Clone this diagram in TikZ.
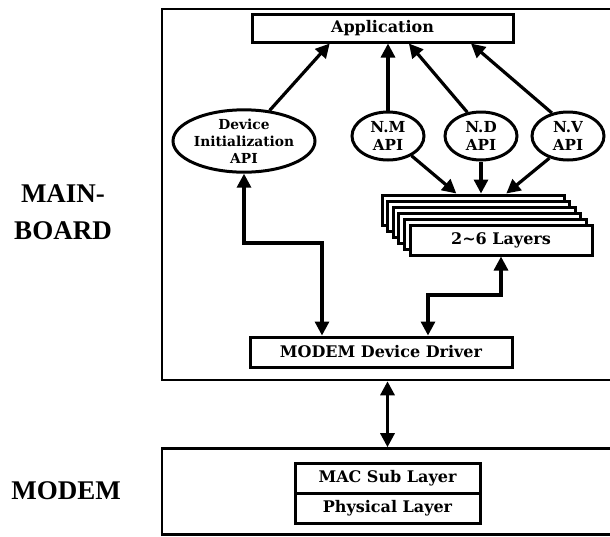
\documentclass[tikz,border=0pt]{standalone}
\usepackage{fontspec}
\setmainfont{DejaVu Serif}
\newfontfamily\sidefont{Liberation Serif}
\usetikzlibrary{positioning,shapes.geometric,arrows.meta,calc}

\begin{document}
\begin{tikzpicture}[x=0.5pt, y=-0.5pt,
  board/.style={draw, line width=1.3pt, minimum width=226.5pt, inner sep=0pt},
  block/.style={draw, line width=1.5pt, fill=white, inner sep=0pt, font=\bfseries\fontsize{8}{9}\selectfont},
  api/.style={draw, ellipse, line width=1.5pt, inner sep=0pt, align=center, font=\bfseries\fontsize{7.6}{8.6}\selectfont},
  side/.style={align=center, font=\sidefont\bfseries\fontsize{13.5}{18.5}\selectfont},
  line/.style={-{Triangle[length=7pt,width=7pt]}, line width=1.6pt},
  dline/.style={{Triangle[length=7pt,width=7pt]}-{Triangle[length=7pt,width=7pt]}, line width=1.6pt}
]
  \useasboundingbox (0,0) rectangle (610,536);

  \node[board, minimum height=185.5pt] (mainboard) at (388.5,194.5) {};
  \node[board, minimum height=43pt] (modembox) at (388.5,491.5) {};

  \node[side] (mainlbl) at (63,212) {MAIN-\\BOARD};
  \node[side] (modemlbl) at (66,491) {MODEM};

  \node[block, minimum width=130.5pt, minimum height=14pt] (app) at (382.5,28) {Application};

  \node[api, minimum width=68pt, minimum height=28pt, font=\bfseries\fontsize{6.9}{8.4}\selectfont] (devapi) at (244,141) {Device\\Initialization\\API};
  \node[api, minimum width=36pt, minimum height=24pt] (nm) at (388,136) {N.M\\API};
  \node[api, minimum width=36pt, minimum height=24pt] (nd) at (481,136) {N.D\\API};
  \node[api, minimum width=36pt, minimum height=24pt] (nv) at (568,136) {N.V\\API};

  % stacked layers, back to front
  \foreach \i in {0,...,4}
    \node[block, minimum width=91pt, minimum height=15pt] (layer\i) at (473+5.6*\i,210+6*\i) {};
  \node[block, minimum width=91pt, minimum height=15pt] (layers) at (501,240) {2\textasciitilde6 Layers};

  \node[block, minimum width=131pt, minimum height=15pt] (drv) at (381,352) {MODEM Device Driver};

  \node[block, minimum width=92.5pt, minimum height=15pt] (mac) at (387.5,478) {MAC Sub Layer};
  \node[block, minimum width=92.5pt, minimum height=15pt] (phy) at (387.5,508) {Physical Layer};

  \draw[line] (devapi.50) -- ($(app.south west)!0.30!(app.south east)$);
  \draw[line] (nm.north) -- (nm.north |- app.south);
  \draw[line] (nd.120) -- ($(app.south west)!0.60!(app.south east)$);
  \draw[line] (nv.125) -- ($(app.south west)!0.835!(app.south east)$);

  \draw[line] (nm.-40) -- ($(layer0.north west)!0.41!(layer0.north east)$);
  \draw[line] (nd.south) -- (nd.south |- layer0.north);
  \draw[line] (nv.-130) -- ($(layer0.north west)!0.68!(layer0.north east)$);

  \coordinate (kneeA) at (322,243);
  \draw[dline] (devapi.south) |- (kneeA) -- (kneeA |- drv.north);
  \coordinate (kneeB) at (428,295);
  \draw[dline] (kneeB |- drv.north) -- (kneeB) -| (layers.south);

  \draw[dline] (mac |- mainboard.south) -- (mac |- modembox.north);
\end{tikzpicture}
\end{document}
